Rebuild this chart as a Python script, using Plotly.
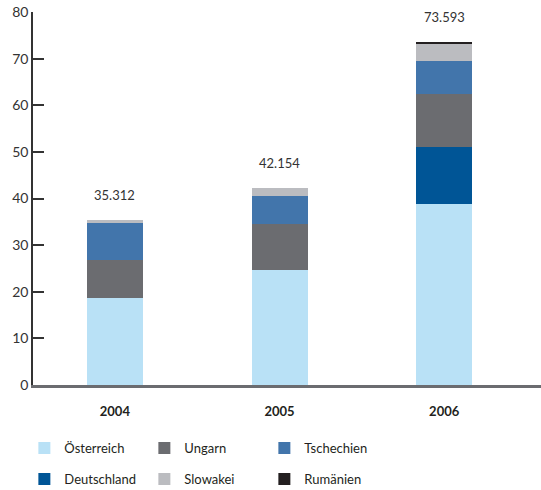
import plotly.graph_objects as go

years = ["2004", "2005", "2006"]
totals = [35.312, 42.154, 73.593]
total_labels = ["35.312", "42.154", "73.593"]

# values per country, stacked bottom to top
oesterreich = [18.66, 24.66, 38.81]
deutschland = [0, 0, 12.22]
ungarn = [8.14, 9.86, 11.37]
tschechien = [7.94, 6.01, 7.08]
slowakei = [0.57, 1.62, 3.64]
rumaenien = [0, 0, 0.47]

series = [
    ("Österreich", oesterreich, "#b9e1f6", "legend"),
    ("Deutschland", deutschland, "#005596", "legend2"),
    ("Ungarn", ungarn, "#6b6c70", "legend"),
    ("Tschechien", tschechien, "#4275ab", "legend"),
    ("Slowakei", slowakei, "#bbbcc0", "legend2"),
    ("Rumänien", rumaenien, "#231f20", "legend2"),
]
legend_order = {"Österreich": 1, "Ungarn": 2, "Tschechien": 3,
                "Deutschland": 1, "Slowakei": 2, "Rumänien": 3}

FONT = "Lato"

fig = go.Figure()
for name, vals, color, leg in series:
    fig.add_trace(go.Bar(
        name=name, x=years, y=vals, marker=dict(color=color, line=dict(width=0)),
        width=0.34, legend=leg, legendrank=legend_order[name],
    ))

# total labels above the bars (category index on the x axis)
for i, (tot, lab) in enumerate(zip(totals, total_labels)):
    fig.add_annotation(x=i, y=tot, text=lab, showarrow=False, yshift=25,
                       font=dict(family=FONT, size=13, color="#333333"))

legend_style = dict(
    orientation="h", xanchor="left", yanchor="middle",
    font=dict(family=FONT, size=13, color="#231f20"),
    entrywidth=75, bgcolor="rgba(0,0,0,0)", traceorder="normal",
)

fig.update_layout(
    width=541, height=490,
    margin=dict(l=33, r=0, t=12, b=105, autoexpand=False),
    barmode="stack",
    plot_bgcolor="white", paper_bgcolor="white",
    font=dict(family=FONT, color="#333333"),
    legend=dict(x=-0.017, y=-0.169, **legend_style),
    legend2=dict(x=-0.017, y=-0.252, **legend_style),
    xaxis=dict(
        type="category", range=[-0.497, 2.588],
        showline=True, linecolor="#6b6c70", linewidth=2.5,
        ticks="", showgrid=False, zeroline=False, ticklabelstandoff=13,
        tickfont=dict(family=FONT, size=13, color="#231f20", weight="bold"),
    ),
    yaxis=dict(
        range=[0, 80], dtick=10,
        showline=True, linecolor="#333333", linewidth=1.5,
        ticks="inside", ticklen=11, tickwidth=1.5, tickcolor="#333333",
        showgrid=False, zeroline=False,
        tickfont=dict(family=FONT, size=14, color="#333333"),
    ),
)

# drop the default page margin so the figure sits at the window's corner
fig.write_html("out.html", config={"displayModeBar": False},
               post_script="document.body.style.margin='0';")
